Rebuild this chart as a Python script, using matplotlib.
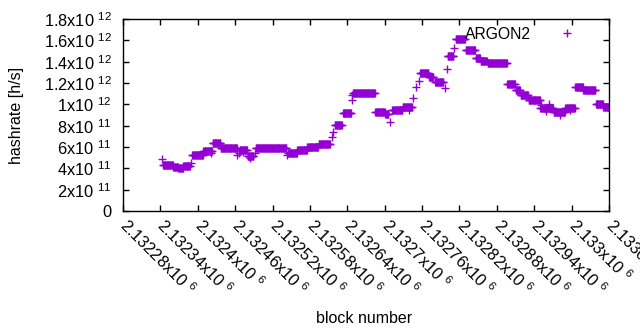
import numpy as np
import matplotlib
matplotlib.use("Agg")
import matplotlib.pyplot as plt

plt.rcParams["font.family"] = ["Liberation Sans", "DejaVu Sans"]
plt.rcParams["mathtext.fontset"] = "custom"
plt.rcParams["mathtext.rm"] = "Liberation Sans"
plt.rcParams["mathtext.it"] = "Liberation Sans"

# flat stretches of the hashrate (block range, value in 1e11 h/s)
seg_first = [2132344, 2132361, 2132369, 2132377, 2132391, 2132409, 2132424, 2132437,
             2132467, 2132480, 2132493, 2132545, 2132560, 2132576, 2132594, 2132620,
             2132633, 2132649, 2132685, 2132701, 2132712, 2132729, 2132757, 2132771,
             2132781, 2132801, 2132814, 2132830, 2132846, 2132854, 2132865, 2132897,
             2132910, 2132918, 2132931, 2132950, 2132971, 2132990, 2133006, 2133019,
             2133039, 2133051]
seg_last = [2132360, 2132368, 2132376, 2132387, 2132408, 2132423, 2132436, 2132463,
            2132479, 2132489, 2132542, 2132559, 2132575, 2132593, 2132612, 2132631,
            2132646, 2132684, 2132700, 2132706, 2132728, 2132744, 2132770, 2132778,
            2132794, 2132810, 2132829, 2132845, 2132853, 2132864, 2132896, 2132909,
            2132917, 2132930, 2132949, 2132970, 2132989, 2133005, 2133018, 2133038,
            2133050, 2133060]
seg_rate = [4.30, 4.16, 4.00, 4.22, 5.25, 5.62, 6.35, 5.87,
            5.72, 5.15, 5.87, 5.47, 5.72, 5.97, 6.25, 8.06,
            9.16, 11.10, 9.30, 9.10, 9.47, 9.75, 12.97, 12.60,
            12.06, 14.53, 16.10, 15.10, 14.30, 14.06, 13.85, 11.90,
            11.34, 10.87, 10.40, 9.65, 9.30, 9.70, 11.60, 11.30,
            10.00, 9.75]

# single blocks that stand apart
extra_block = [2132342, 2132389, 2132422, 2132463, 2132466, 2132473, 2132484, 2132492,
               2132544, 2132615, 2132617, 2132647, 2132648, 2132709, 2132739, 2132746,
               2132751, 2132755, 2132797, 2132800, 2132812, 2132951, 2132959, 2132964,
               2132981, 2132997]
extra_rate = [4.85, 4.47, 5.47, 5.25, 5.41, 5.56, 4.94, 5.41,
              5.25, 6.97, 7.43, 10.40, 10.87, 8.30, 9.47, 10.56,
              11.65, 12.20, 11.50, 13.30, 15.25, 9.90, 9.40, 10.00,
              9.00, 9.50]

xtick_values = list(range(2132280, 2133061, 60))
xtick_labels = ["2.13228x10 ${}^{6}$", "2.13234x10 ${}^{6}$", "2.1324x10 ${}^{6}$",
                "2.13246x10 ${}^{6}$", "2.13252x10 ${}^{6}$", "2.13258x10 ${}^{6}$",
                "2.13264x10 ${}^{6}$", "2.1327x10 ${}^{6}$", "2.13276x10 ${}^{6}$",
                "2.13282x10 ${}^{6}$", "2.13288x10 ${}^{6}$", "2.13294x10 ${}^{6}$",
                "2.133x10 ${}^{6}$", "2.13306x10 ${}^{6}$"]
ytick_values = [0, 2e11, 4e11, 6e11, 8e11, 1e12, 1.2e12, 1.4e12, 1.6e12, 1.8e12]
ytick_labels = ["0", "2x10 ${}^{11}$", "4x10 ${}^{11}$", "6x10 ${}^{11}$", "8x10 ${}^{11}$",
                "1x10 ${}^{12}$", "1.2x10 ${}^{12}$", "1.4x10 ${}^{12}$",
                "1.6x10 ${}^{12}$", "1.8x10 ${}^{12}$"]

blocks = []
rates = []
for a, b, r in zip(seg_first, seg_last, seg_rate):
    n = b - a + 1
    blocks.extend(range(a, b + 1))
    rates.extend([r] * n)
blocks.extend(extra_block)
rates.extend(extra_rate)
blocks = np.array(blocks)
rates = np.array(rates) * 1e11

fig = plt.figure(figsize=(6.4, 3.3), dpi=100)
ax = fig.add_axes([123 / 640, 1 - 211 / 330, 486 / 640, 192 / 330])

ax.plot(blocks, rates, ls="none", marker="+", ms=5.4, mew=1.0,
        color="#9400D3", label="ARGON2")

ax.set_xlim(2132280, 2133060)
ax.set_ylim(0, 1.8e12)
ax.set_xticks(xtick_values)
ax.set_xticklabels(xtick_labels, rotation=-45, ha="left", va="center",
                   rotation_mode="anchor", fontsize=11.8)
ax.set_yticks(ytick_values)
ax.set_yticklabels(ytick_labels, fontsize=11.8)
ax.tick_params(direction="in", length=4, width=1, top=True, right=True)
ax.tick_params(axis="x", pad=8)
ax.tick_params(axis="y", pad=8)
for s in ax.spines.values():
    s.set_linewidth(1)

ax.set_xlabel("block number", fontsize=11.5)
ax.xaxis.set_label_coords(0.497, -0.52)
ax.set_ylabel("hashrate [h/s]", fontsize=11.5)
ax.yaxis.set_label_coords(-0.203, 0.5)

ax.legend(loc="upper right", bbox_to_anchor=(0.962, 0.96), frameon=False,
          markerfirst=False, fontsize=11.3, handlelength=3, handletextpad=0.8,
          borderaxespad=0, borderpad=0)

fig.savefig("out.png", dpi=100)
